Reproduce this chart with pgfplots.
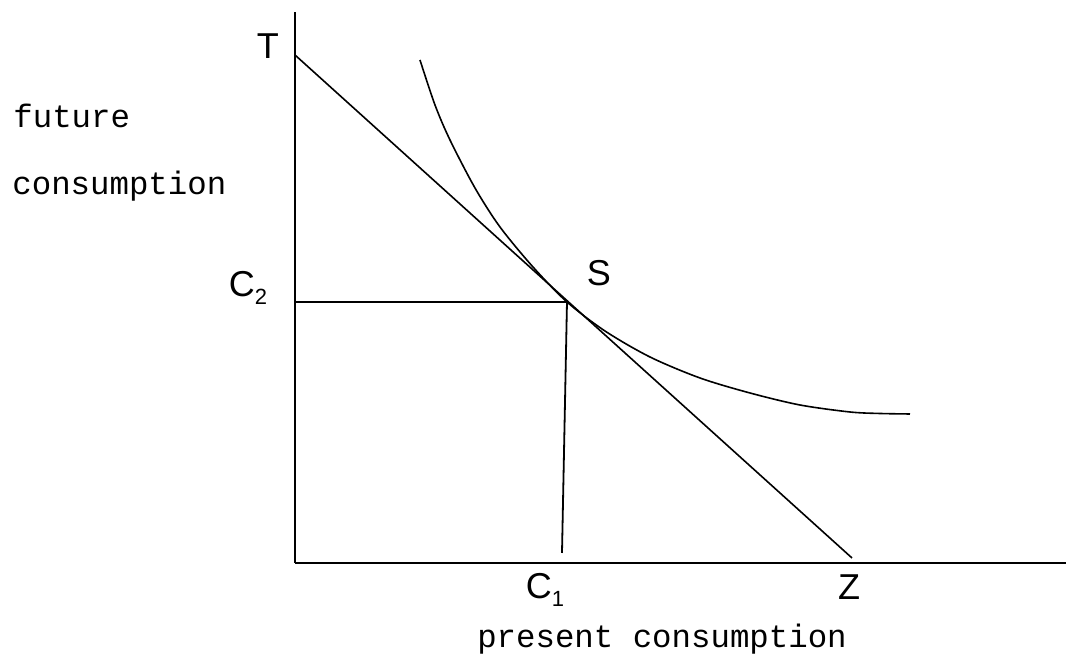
\documentclass[border=0pt]{standalone}
\usepackage{pgfplots}
\pgfplotsset{compat=1.18}
\usepackage{fontspec}
\setmainfont{Liberation Sans}
\newfontfamily\monof{Liberation Mono}
\begin{document}
\begin{tikzpicture}
\begin{axis}[
  scale only axis,
  width=385.5pt, height=275.5pt,
  xmin=0, xmax=771, ymin=0, ymax=551,
  axis lines=left,
  axis line style={line width=1pt, -},
  xtick=\empty, ytick=\empty,
  enlargelimits=false,
  clip=false,
]
% budget line T-Z
\addplot[black, line width=0.8pt] coordinates {(0,508) (557,5)};
% indifference curve
\addplot[black, line width=0.8pt, smooth, tension=0.5] coordinates {
(125,503) (140,458) (155,423) (180,375) (205,336) (238,296) (272,261)
(310,232) (355,206) (405,185) (455,170) (505,158) (555,151) (585,149.5) (615,149)};
% c2 horizontal and c1 vertical
\addplot[black, line width=0.9pt] coordinates {(0,261) (272,261)};
\addplot[black, line width=0.9pt] coordinates {(272,261) (267,10)};
% labels
\node[font=\fontsize{18}{20}\selectfont] at (axis cs:-27,517) {T};
\node[font=\fontsize{18}{20}\selectfont] at (axis cs:-47,275) {C\raisebox{-0.45ex}{\fontsize{11}{12}\selectfont 2}};
\node[font=\fontsize{18}{20}\selectfont] at (axis cs:304,290) {S};
\node[font=\fontsize{18}{20}\selectfont] at (axis cs:250,-27) {C\raisebox{-0.45ex}{\fontsize{11}{12}\selectfont 1}};
\node[font=\fontsize{18}{20}\selectfont] at (axis cs:554,-24) {Z};
\node[font=\monof\fontsize{16.2}{19}\selectfont, anchor=base] at (axis cs:367,-85) {present consumption};
\node[font=\monof\fontsize{16.2}{19}\selectfont, anchor=base west, inner sep=0pt] at (axis cs:-282,435) {future};
\node[font=\monof\fontsize{16.2}{19}\selectfont, anchor=base west, inner sep=0pt] at (axis cs:-283,368) {consumption};
\coordinate (bl) at (axis cs:-295,-93);
\coordinate (tr) at (axis cs:771,563);
\end{axis}
\pgfresetboundingbox
\path (bl) rectangle (tr);
\end{tikzpicture}
\end{document}
